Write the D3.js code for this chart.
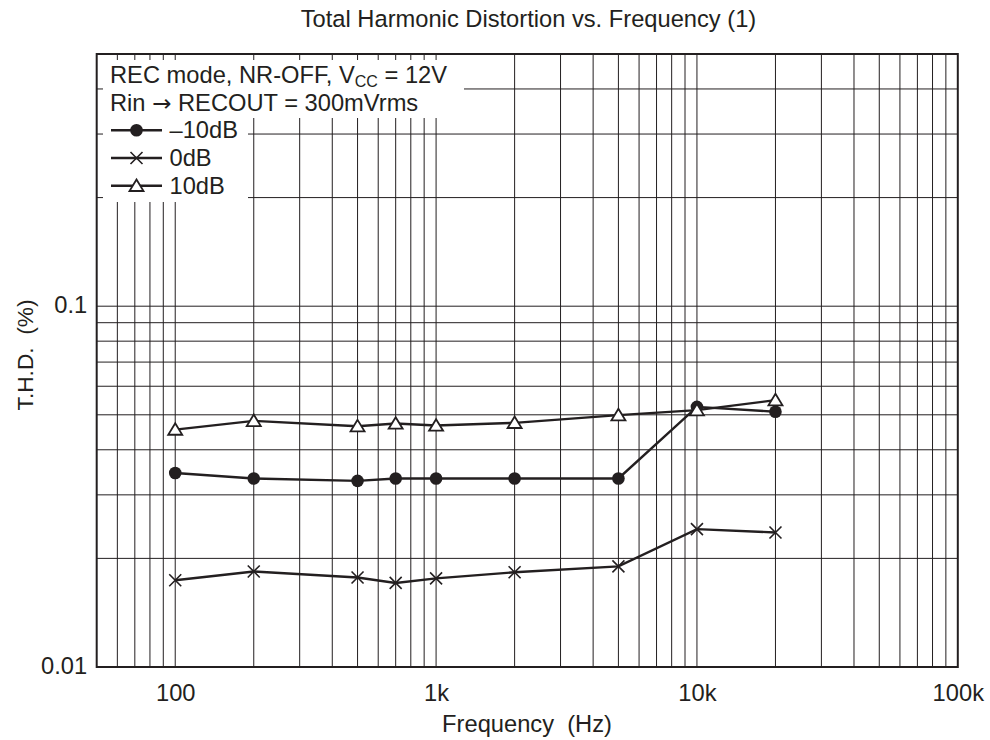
<!DOCTYPE html>
<html><head><meta charset="utf-8">
<script src="https://cdn.jsdelivr.net/npm/d3@7"></script>
<style>
body{margin:0;background:#fff;}
text{font-family:"Liberation Sans",Arial,Helvetica,sans-serif;fill:#231f20;}
</style></head>
<body><svg id="c" width="990" height="740"></svg>
<script>
const freqs = [100, 200, 500, 700, 1000, 2000, 5000, 10000, 20000];
const seriesMinus10 = [0.0345, 0.0333, 0.0328, 0.0333, 0.0333, 0.0333, 0.0333, 0.0526, 0.0510];
const series0 = [0.0174, 0.0184, 0.0177, 0.0171, 0.0176, 0.0183, 0.0190, 0.0241, 0.0236];
const series10 = [0.0455, 0.0481, 0.0465, 0.0473, 0.0467, 0.0475, 0.0499, 0.0515, 0.0549];
const xTickValues = [100, 1000, 10000, 100000];
const xTickLabels = ["100", "1k", "10k", "100k"];
const yTickValues = [0.01, 0.1];
const yTickLabels = ["0.01", "0.1"];
const xGrid = [60,70,80,90,100,200,300,400,500,600,700,800,900,1000,2000,3000,4000,5000,6000,7000,8000,9000,10000,20000,30000,40000,50000,60000,70000,80000,90000];
const yGrid = [0.02,0.03,0.04,0.05,0.06,0.07,0.08,0.09,0.1,0.2,0.3,0.4];
const legendNames = ["\u201310dB", "0dB", "10dB"];

const svg = d3.select("#c");
const L = 96.7, R = 957.8, T = 54, B = 667;
const FS = 23.7;
const x = d3.scaleLog().domain([50, 100000]).range([L, R]);
const y = d3.scaleLog().domain([0.01, 0.5]).range([B, T]);
const ink = "#231f20";

// grid
const g = svg.append("g");
g.selectAll("line.vx").data(xGrid).enter().append("line")
  .attr("x1", d => x(d)).attr("x2", d => x(d)).attr("y1", T).attr("y2", B)
  .attr("stroke", ink).attr("stroke-width", 1);
g.selectAll("line.hy").data(yGrid).enter().append("line")
  .attr("y1", d => y(d)).attr("y2", d => y(d)).attr("x1", L).attr("x2", R)
  .attr("stroke", ink).attr("stroke-width", 1);

// legend white masks
g.append("rect").attr("x", 103).attr("y", 60).attr("width", 361).attr("height", 58).attr("fill", "#fff");
g.append("rect").attr("x", 103).attr("y", 117).attr("width", 145).attr("height", 85).attr("fill", "#fff");

// frame
svg.append("rect").attr("x", L).attr("y", T).attr("width", R - L).attr("height", B - T)
  .attr("fill", "none").attr("stroke", ink).attr("stroke-width", 2);

// axes labels via d3 axes
const xAxis = d3.axisBottom(x).tickValues(xTickValues).tickSize(0).tickPadding(0)
  .tickFormat((d, i) => xTickLabels[i]);
const xa = svg.append("g").attr("transform", `translate(0,${B})`).call(xAxis);
xa.select(".domain").remove();
xa.selectAll("text").attr("dy", null).attr("y", 34).attr("font-size", FS)
  .attr("fill", ink).attr("font-family", "Liberation Sans, Arial, sans-serif");

const yAxis = d3.axisLeft(y).tickValues(yTickValues).tickSize(0).tickPadding(0)
  .tickFormat((d, i) => yTickLabels[i]);
const ya = svg.append("g").attr("transform", `translate(${L},0)`).call(yAxis);
ya.select(".domain").remove();
ya.selectAll("text").attr("dy", 6.5).attr("x", -9.5).attr("font-size", FS)
  .attr("fill", ink).attr("font-family", "Liberation Sans, Arial, sans-serif");

// titles
svg.append("text").attr("x", 528.5).attr("y", 26.5).attr("text-anchor", "middle")
  .attr("font-size", FS).text("Total Harmonic Distortion vs. Frequency (1)");
svg.append("text").attr("x", 527).attr("y", 732).attr("text-anchor", "middle")
  .attr("font-size", FS).style("white-space", "pre").text("Frequency  (Hz)");
svg.append("text").attr("transform", "translate(33,355) rotate(-90)").attr("text-anchor", "middle")
  .attr("font-size", FS - 1).style("white-space", "pre").text("T.H.D.  (%)");

// series
const series = [
  {vals: seriesMinus10, marker: "circle"},
  {vals: series0, marker: "cross"},
  {vals: series10, marker: "triangle"}
];
const line = d3.line().x(d => x(d[0])).y(d => y(d[1]));

function drawMarker(sel, type, cx, cy) {
  if (type === "circle") {
    sel.append("circle").attr("cx", cx).attr("cy", cy).attr("r", 6.3).attr("fill", ink);
  } else if (type === "cross") {
    const s = 6;
    sel.append("path").attr("d", `M${cx - s},${cy - s}L${cx + s},${cy + s}M${cx - s},${cy + s}L${cx + s},${cy - s}`)
      .attr("stroke", ink).attr("stroke-width", 1.6).attr("fill", "none");
  } else {
    const w = 7, h = 11.5;
    sel.append("path").attr("d", `M${cx},${cy - h * 0.55}L${cx + w},${cy + h * 0.45}L${cx - w},${cy + h * 0.45}Z`)
      .attr("stroke", ink).attr("stroke-width", 1.8).attr("fill", "#fff");
  }
}

const sg = svg.append("g");
series.forEach(s => {
  const pts = freqs.map((f, i) => [f, s.vals[i]]);
  sg.append("path").attr("d", line(pts)).attr("fill", "none").attr("stroke", ink).attr("stroke-width", 2.4);
});
series.forEach(s => {
  freqs.forEach((f, i) => drawMarker(sg, s.marker, x(f), y(s.vals[i])));
});

// legend
const lg = svg.append("g");
const t1 = lg.append("text").attr("x", 110).attr("y", 82.5).attr("font-size", FS);
t1.append("tspan").text("REC mode, NR-OFF, V");
t1.append("tspan").attr("font-size", 16).attr("dy", 4).text("CC");
t1.append("tspan").attr("dy", -4).text(" = 12V");
const t2 = lg.append("text").attr("x", 110).attr("y", 110.5).attr("font-size", FS);
t2.append("tspan").text("Rin ");
t2.append("tspan").attr("font-family", "DejaVu Sans, sans-serif").attr("font-size", 23).text("\u2192");
t2.append("tspan").text(" RECOUT = 300mVrms");
const legY = [138.3, 166, 193.8];
series.forEach((s, i) => {
  const yy = legY[i] - 8;
  lg.append("line").attr("x1", 111).attr("x2", 162).attr("y1", yy).attr("y2", yy)
    .attr("stroke", ink).attr("stroke-width", 2.4);
  drawMarker(lg, s.marker, 136.5, yy);
  lg.append("text").attr("x", 169.5).attr("y", legY[i]).attr("font-size", FS).text(legendNames[i]);
});
</script></body></html>
